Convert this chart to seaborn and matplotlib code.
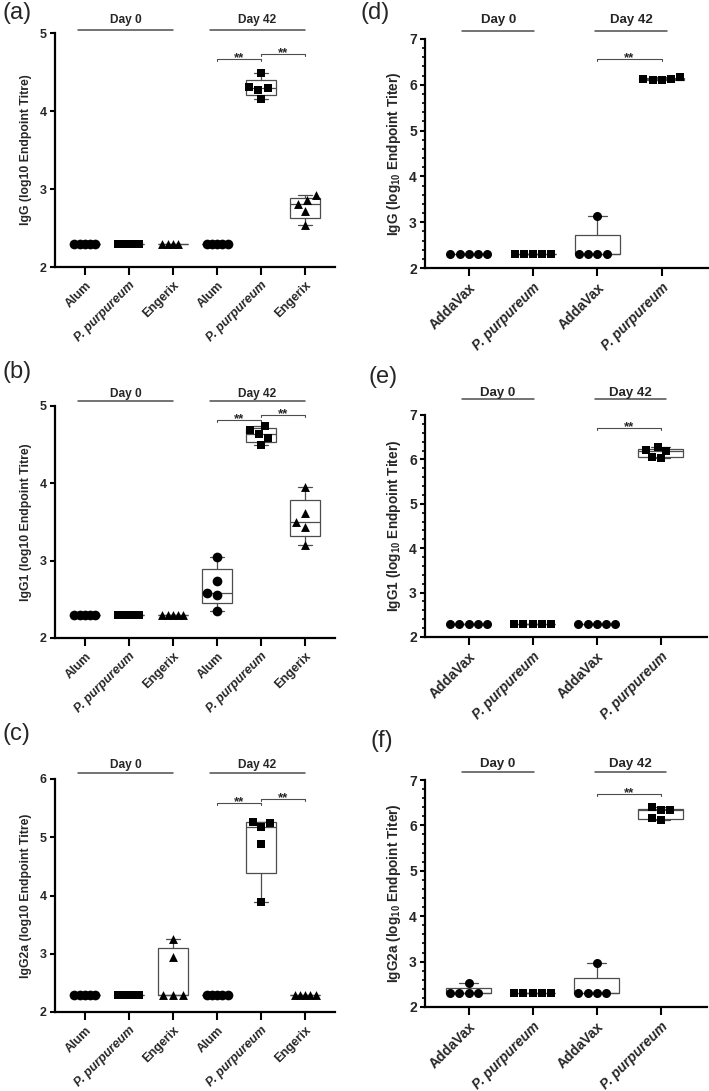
import numpy as np
import pandas as pd
import seaborn as sns
import matplotlib.pyplot as plt
from matplotlib.ticker import MultipleLocator, AutoMinorLocator
from matplotlib.transforms import ScaledTranslation

# log10 endpoint titres, one list per group:
# day 0 groups first, then day 42 groups
left_groups = ['Alum', 'P. purpureum', 'Engerix']
right_groups = ['AddaVax', 'P. purpureum']

igg_titre = [
    [2.3, 2.3, 2.3, 2.3, 2.3],
    [2.3, 2.3, 2.3, 2.3, 2.3],
    [2.3, 2.3, 2.3, 2.3],
    [2.3, 2.3, 2.3, 2.3, 2.3],
    [4.49, 4.31, 4.27, 4.29, 4.15],
    [2.92, 2.86, 2.81, 2.72, 2.54],
]
igg1_titre = [
    [2.3, 2.3, 2.3, 2.3, 2.3],
    [2.3, 2.3, 2.3, 2.3, 2.3],
    [2.3, 2.3, 2.3, 2.3, 2.3],
    [3.05, 2.74, 2.58, 2.55, 2.35],
    [4.74, 4.69, 4.64, 4.58, 4.49],
    [3.95, 3.61, 3.50, 3.44, 3.20],
]
igg2a_titre = [
    [2.3, 2.3, 2.3, 2.3, 2.3],
    [2.3, 2.3, 2.3, 2.3, 2.3],
    [3.26, 2.94, 2.3, 2.3, 2.3],
    [2.3, 2.3, 2.3, 2.3, 2.3],
    [5.27, 5.24, 5.17, 4.88, 3.88],
    [2.3, 2.3, 2.3, 2.3, 2.3],
]
igg_titer = [
    [2.3, 2.3, 2.3, 2.3, 2.3],
    [2.3, 2.3, 2.3, 2.3, 2.3],
    [3.14, 2.3, 2.3, 2.3, 2.3],
    [6.16, 6.13, 6.13, 6.11, 6.11],
]
igg1_titer = [
    [2.3, 2.3, 2.3, 2.3, 2.3],
    [2.3, 2.3, 2.3, 2.3, 2.3],
    [2.3, 2.3, 2.3, 2.3, 2.3],
    [6.27, 6.21, 6.20, 6.05, 6.04],
]
igg2a_titer = [
    [2.52, 2.3, 2.3, 2.3, 2.3],
    [2.3, 2.3, 2.3, 2.3, 2.3],
    [2.98, 2.3, 2.3, 2.3, 2.3],
    [6.40, 6.33, 6.33, 6.16, 6.12],
]

sns.set_theme(style='ticks')
plt.rcParams['font.family'] = ['Liberation Sans', 'DejaVu Sans']
plt.rcParams['mathtext.fontset'] = 'custom'
plt.rcParams['mathtext.rm'] = 'Liberation Sans:bold'

GREY = '#4d4d4d'
W, H = 709, 1091
fig = plt.figure(figsize=(W / 100, H / 100), dpi=100)

swarm_colls = []
# drawn marker sizes (pt): circle, square, triangle
left_msize = {'o': 7.0, 's': 6.0, '^': 6.4}
right_msize = {'o': 6.5, 's': 5.6}


def px_axes(l, r, t, b):
    return fig.add_axes([l / W, 1 - b / H, (r - l) / W, (b - t) / H])


def panel(ax, vals, groups, markers, ymax, ylabel, brackets, day_bars,
          line_dy, text_dy, right=False):
    cats = [f'{d} {g}' for d in ('d0', 'd42') for g in groups]
    group_of = groups * 2
    df = pd.DataFrame({
        'cat': np.repeat(cats, [len(v) for v in vals]),
        'titre': np.concatenate(vals),
    })

    # Prism style box: quartiles by (n+1)p, whiskers min to max
    stats = []
    for v in vals:
        q1, med, q3 = np.percentile(v, [25, 50, 75], method='weibull')
        stats.append(dict(med=med, q1=q1, q3=q3, whislo=min(v),
                          whishi=max(v), fliers=[]))
    lp = dict(color=GREY, linewidth=0.9)
    ax.bxp(stats, positions=range(len(cats)), widths=0.7, capwidths=0.3,
           showfliers=False, patch_artist=True, manage_ticks=False,
           boxprops=dict(facecolor='white', edgecolor=GREY, linewidth=0.9),
           whiskerprops=lp, capprops=lp, medianprops=lp, zorder=1)

    # flat rows are packed tight, spread groups get looser spacing
    flat_size, spread_size = (6.3, 6.3) if right else (3.6, 7.0)
    msize = right_msize if right else left_msize
    for cat, v, m in zip(cats, vals, markers * 2):
        n0 = len(ax.collections)
        comp = flat_size if len(set(v)) == 1 else spread_size
        sns.swarmplot(data=df[df['cat'] == cat], x='cat', y='titre',
                      order=cats, marker=m, color='black', size=comp,
                      ax=ax, zorder=3)
        for c in ax.collections[n0:]:
            swarm_colls.append((c, msize[m]))

    nc = len(cats)
    ax.set_xlim(-0.68, nc - 1 + (0.72 if right else 0.68))
    ax.set_ylim(2, ymax)
    ax.yaxis.set_major_locator(MultipleLocator(1))
    if right:
        ax.yaxis.set_minor_locator(AutoMinorLocator(5))
    ax.set_xticks(range(nc))
    fs = 10 if right else 9
    ax.set_xticklabels(group_of, rotation=45, ha='right',
                       rotation_mode='anchor', fontsize=fs, fontweight='bold')
    for lab in ax.get_xticklabels():
        if lab.get_text().startswith('P.'):
            lab.set_fontstyle('italic')
    for lab in ax.get_yticklabels():
        lab.set_fontweight('bold')
    ax.tick_params(axis='y', labelsize=fs, length=3.8, width=1.5,
                   pad=2, color='black')
    ax.tick_params(axis='y', which='minor', length=2, width=1.2, color='black')
    ax.tick_params(axis='x', length=5.8, width=1.5, pad=3, color='black')
    ax.set_xlabel('')
    ax.set_ylabel(ylabel, fontsize=9.8 if right else 8.8, fontweight='bold')
    ax.yaxis.set_label_coords(-0.078 if right else -0.082, 0.5)
    sns.despine(ax=ax)
    for s in ('left', 'bottom'):
        ax.spines[s].set_linewidth(1.6)
        ax.spines[s].set_color('black')

    # Day 0 / Day 42 headers above the plot
    for (x0, x1), lab, in zip(day_bars, ('Day 0', 'Day 42')):
        tr = ax.get_xaxis_transform() + ScaledTranslation(
            0, line_dy / 100, fig.dpi_scale_trans)
        ax.plot([x0, x1], [1, 1], color=GREY, lw=1.1, transform=tr,
                clip_on=False)
        ax.annotate(lab, xy=((x0 + x1) / 2, 1),
                    xycoords=('data', 'axes fraction'),
                    xytext=(0, text_dy * 0.72), textcoords='offset points',
                    ha='center', va='center', fontsize=9.5 if right else 8.6,
                    fontweight='bold')

    # significance brackets
    d = 0.008 * (ymax - 2)
    for i, j, y in brackets:
        ax.plot([i, i, j, j], [y - d, y, y, y - d], color=GREY, lw=0.8,
                clip_on=False)
        ax.annotate('**', xy=((i + j) / 2, y), xytext=(0, -1.5),
                    textcoords='offset points', ha='center', va='baseline',
                    fontsize=9.5, fontweight='bold')


left_days = [(-0.15, 2.0), (2.84, 5.0)]
right_days = [(-0.1, 1.02), (1.97, 3.08)]
lm = ['o', 's', '^']
rm = ['o', 's']

ax_a = px_axes(55, 335, 33, 267)
panel(ax_a, igg_titre, left_groups, lm, 5, 'IgG (log10 Endpoint Titre)',
      [(3, 4, 4.67), (4, 5, 4.73)], left_days, 3.3, 13.3)
ax_b = px_axes(55, 335, 406, 638)
panel(ax_b, igg1_titre, left_groups, lm, 5, 'IgG1 (log10 Endpoint Titre)',
      [(3, 4, 4.82), (4, 5, 4.88)], left_days, 4.7, 12.4)
ax_c = px_axes(55, 335, 779, 1012)
panel(ax_c, igg2a_titre, left_groups, lm, 6, 'IgG2a (log10 Endpoint Titre)',
      [(3, 4, 5.59), (4, 5, 5.66)], left_days, 5.7, 14)

sub10 = r'$_\mathregular{10}$'
ax_d = px_axes(425, 708, 39, 268)
panel(ax_d, igg_titer, right_groups, rm, 7,
      f'IgG (log{sub10} Endpoint Titer)', [(2, 3, 6.56)], right_days,
      8.3, 18.6, right=True)
ax_e = px_axes(425, 707, 415, 637)
panel(ax_e, igg1_titer, right_groups, rm, 7,
      f'IgG1 (log{sub10} Endpoint Titer)', [(2, 3, 6.71)], right_days,
      15.7, 21.7, right=True)
ax_f = px_axes(425, 707, 780, 1007)
panel(ax_f, igg2a_titer, right_groups, rm, 7,
      f'IgG2a (log{sub10} Endpoint Titer)', [(2, 3, 6.69)], right_days,
      8.3, 16, right=True)

for lab, (x, y) in zip('abcdef', [(2, 2), (2, 361), (3, 723),
                                  (361, 2), (368, 366), (371, 730)]):
    fig.text(x / W, 1 - y / H, f'({lab})', fontsize=17, ha='left', va='top')

# let seaborn place the swarms first, then enlarge the markers so
# neighbouring points overlap the way Prism draws them
fig.canvas.draw()
for coll, s in swarm_colls:
    vars(coll).pop('draw', None)
    coll.set_sizes([s ** 2])

fig.savefig('out.png', dpi=100)
